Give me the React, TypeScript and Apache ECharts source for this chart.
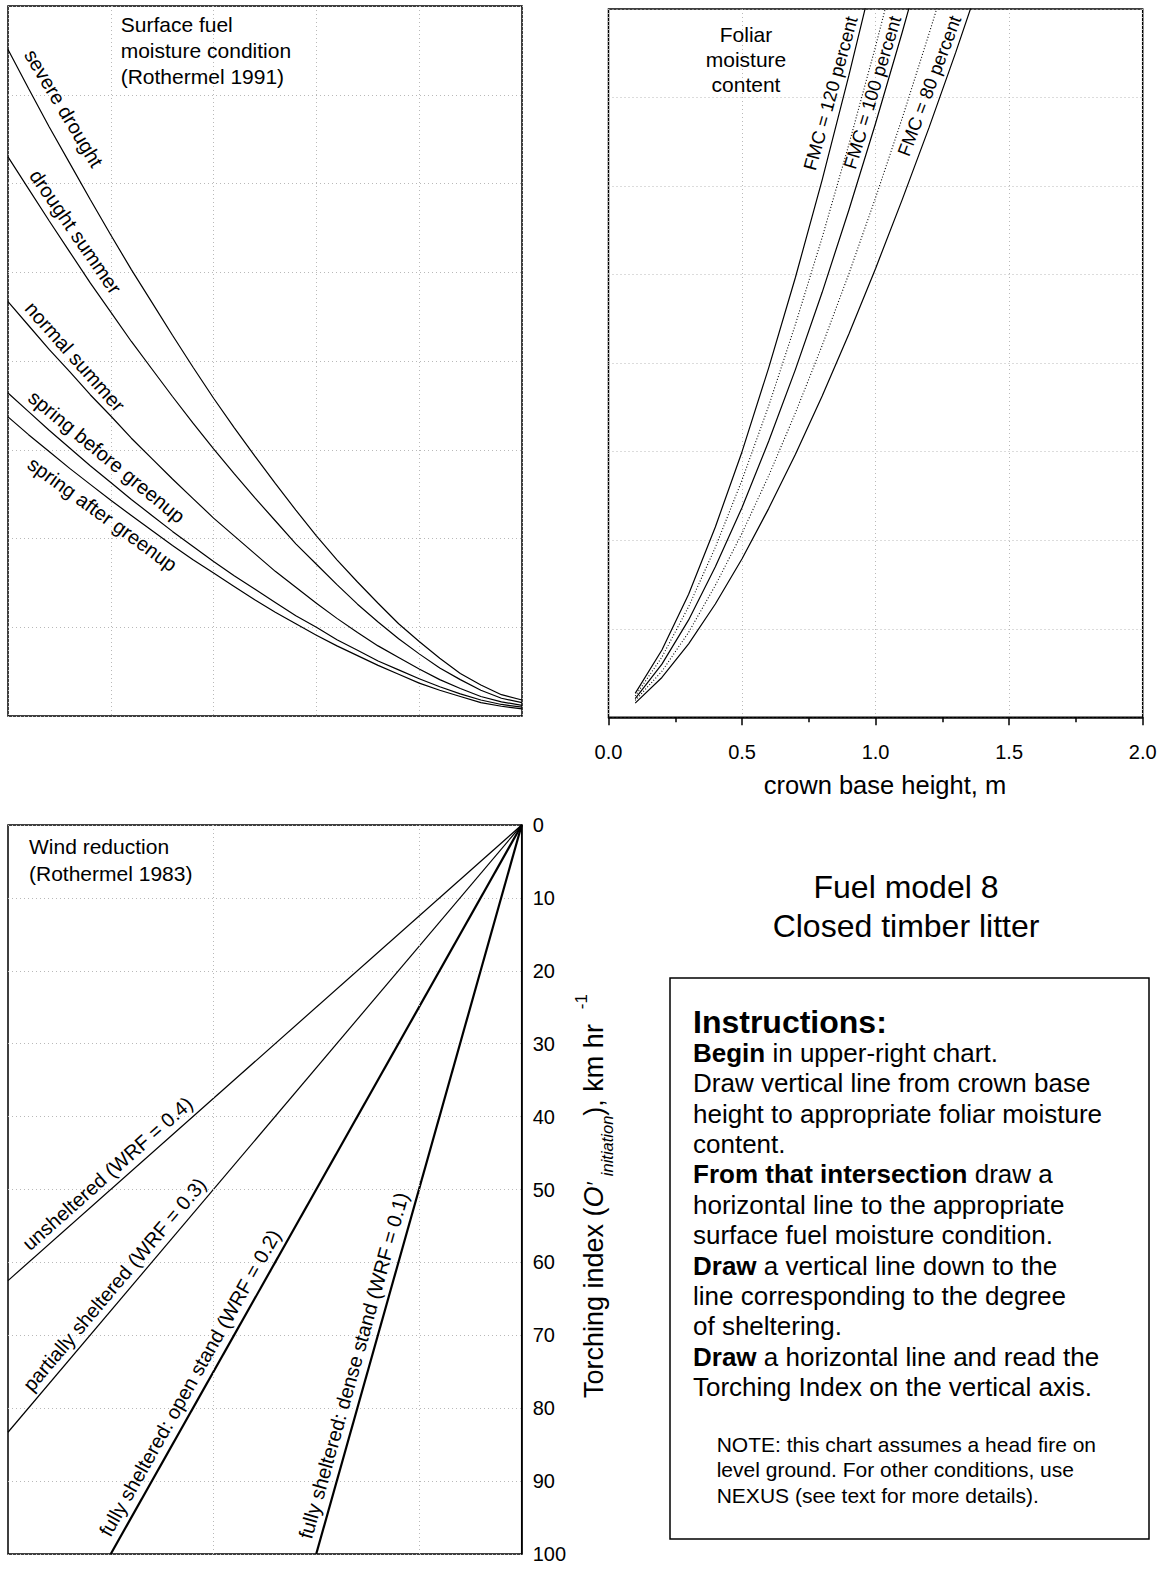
import React, { useEffect, useRef } from "react";
import * as echarts from "echarts";

// ---------- Upper-left: surface fuel moisture condition (midflame wind, 0 at right edge) ----------
const midflameWind = [0, 1, 2, 3, 4, 5, 6, 7, 8, 9, 10, 11, 12, 13, 14, 15, 16, 17, 18, 19, 20, 21, 22, 23, 24, 25];
const severeDrought = [0.18, 0.24, 0.35, 0.48, 0.65, 0.84, 1.04, 1.27, 1.51, 1.76, 2.03, 2.32, 2.62, 2.93, 3.25, 3.58, 3.93, 4.29, 4.66, 5.03, 5.42, 5.82, 6.23, 6.64, 7.07, 7.51];
const droughtSummer = [0.15, 0.2, 0.29, 0.41, 0.54, 0.7, 0.87, 1.06, 1.26, 1.48, 1.71, 1.94, 2.2, 2.46, 2.73, 3.01, 3.3, 3.6, 3.91, 4.22, 4.55, 4.88, 5.23, 5.58, 5.94, 6.3];
const normalSummer = [0.12, 0.16, 0.22, 0.31, 0.41, 0.53, 0.66, 0.79, 0.94, 1.1, 1.27, 1.45, 1.63, 1.83, 2.03, 2.23, 2.45, 2.67, 2.9, 3.13, 3.38, 3.62, 3.88, 4.13, 4.4, 4.67];
const springBeforeGreenup = [0.1, 0.13, 0.18, 0.25, 0.33, 0.42, 0.52, 0.62, 0.74, 0.86, 1.0, 1.13, 1.28, 1.43, 1.58, 1.74, 1.91, 2.08, 2.26, 2.44, 2.63, 2.82, 3.02, 3.22, 3.43, 3.64];
const springAfterGreenup = [0.08, 0.11, 0.15, 0.22, 0.29, 0.37, 0.47, 0.57, 0.68, 0.79, 0.91, 1.04, 1.17, 1.31, 1.46, 1.61, 1.76, 1.92, 2.09, 2.26, 2.43, 2.61, 2.79, 2.98, 3.17, 3.37];

// ---------- Upper-right: foliar moisture content curves vs crown base height ----------
const crownBaseHeight = [0.1, 0.2, 0.3, 0.4, 0.5, 0.6, 0.7, 0.8, 0.9, 1.0, 1.1, 1.2, 1.3, 1.4];
const fmc120 = [0.27, 0.76, 1.39, 2.15, 3.0, 3.95, 4.97, 6.07, 7.25, 8.49];
const fmc110 = [0.24, 0.68, 1.25, 1.92, 2.68, 3.52, 4.44, 5.42, 6.47, 7.58, 8.75];
const fmc100 = [0.21, 0.6, 1.1, 1.7, 2.37, 3.12, 3.93, 4.8, 5.73, 6.71, 7.74, 8.82];
const fmc90 = [0.19, 0.52, 0.96, 1.49, 2.08, 2.73, 3.44, 4.2, 5.01, 5.87, 6.77, 7.72, 8.7];
const fmc80 = [0.16, 0.45, 0.83, 1.28, 1.79, 2.36, 2.97, 3.63, 4.33, 5.07, 5.85, 6.66, 7.51, 8.4];

// ---------- Lower-left: wind reduction lines [midflame wind, torching index] ----------
const unshelteredLine = [[0, 0], [25, 62.5]];
const partiallyShelteredLine = [[0, 0], [25, 83.3]];
const openStandLine = [[0, 0], [20, 100]];
const denseStandLine = [[0, 0], [10, 100]];
const lowerWindGrid = [5, 15];

const FONT = "'Liberation Sans', Arial, Helvetica, sans-serif";

const zip = (xs: number[], ys: number[]) => ys.map((y, i) => [xs[i], y]);

const gridLine = {
  show: true,
  lineStyle: { color: "#b9b9b9", width: 1, type: [1, 3] as any },
};

const hiddenAxis = {
  axisLine: { show: false },
  axisTick: { show: false },
  axisLabel: { show: false },
};

function curve(data: number[][], xi: number, width = 1.2, type: any = "solid") {
  return {
    type: "line",
    xAxisIndex: xi,
    yAxisIndex: xi,
    data,
    symbol: "none",
    clip: true,
    silent: true,
    lineStyle: { color: "#000", width, type },
  };
}

function label(text: string, x: number, y: number, deg: number, size = 20) {
  return {
    type: "text",
    x,
    y,
    rotation: (deg * Math.PI) / 180,
    z: 100,
    style: {
      text,
      fill: "#000",
      fontSize: size,
      fontFamily: FONT,
      align: "center",
      verticalAlign: "middle",
    },
  };
}

export default function App() {
  const ref = useRef<HTMLDivElement>(null);

  useEffect(() => {
    if (!ref.current) return;
    const chart = echarts.init(ref.current, undefined, { renderer: "svg" });

    const option: any = {
      animation: false,
      backgroundColor: "#fff",
      grid: [
        { left: 8, top: 6, width: 514, height: 710, show: true, borderColor: "#000", borderWidth: 1.5, outerBoundsMode: "none" },
        { left: 608.5, top: 9, width: 534.2, height: 708.3, show: true, borderColor: "#000", borderWidth: 1.5, outerBoundsMode: "none" },
        { left: 8, top: 825, width: 513.7, height: 729, show: true, borderColor: "#000", borderWidth: 1.5, outerBoundsMode: "none" },
      ],
      xAxis: [
        { gridIndex: 0, type: "value", min: 0, max: 25, interval: 5, inverse: true, ...hiddenAxis, splitLine: gridLine },
        {
          gridIndex: 1,
          type: "value",
          min: 0,
          max: 2,
          interval: 0.5,
          axisLine: { show: true, onZero: false, lineStyle: { color: "#000", width: 1.5 } },
          axisTick: { show: true, length: 8, lineStyle: { color: "#000", width: 1.5 } },
          minorTick: { show: true, splitNumber: 2, length: 5, lineStyle: { color: "#000", width: 1.5 } },
          minorSplitLine: { show: false },
          axisLabel: {
            show: true,
            fontSize: 20,
            color: "#000",
            fontFamily: FONT,
            margin: 25,
            formatter: (v: number) => v.toFixed(1),
          },
          splitLine: gridLine,
        },
        { gridIndex: 2, type: "value", min: 0, max: 25, inverse: true, ...hiddenAxis, splitLine: { show: false } },
      ],
      yAxis: [
        { gridIndex: 0, type: "value", min: 0, max: 8, interval: 1, ...hiddenAxis, splitLine: gridLine },
        { gridIndex: 1, type: "value", min: 0, max: 8, interval: 1, ...hiddenAxis, splitLine: gridLine },
        {
          gridIndex: 2,
          type: "value",
          min: 0,
          max: 100,
          interval: 10,
          inverse: true,
          position: "right",
          axisLine: { show: true, onZero: false, lineStyle: { color: "#000", width: 1.5 } },
          axisTick: { show: false },
          axisLabel: { show: true, fontSize: 20, color: "#000", fontFamily: FONT, margin: 11 },
          splitLine: gridLine,
        },
      ],
      series: [
        curve(zip(midflameWind, severeDrought), 0),
        curve(zip(midflameWind, droughtSummer), 0),
        curve(zip(midflameWind, normalSummer), 0),
        curve(zip(midflameWind, springBeforeGreenup), 0),
        curve(zip(midflameWind, springAfterGreenup), 0),

        curve(zip(crownBaseHeight, fmc120), 1),
        curve(zip(crownBaseHeight, fmc110), 1, 1.1, [1, 2]),
        curve(zip(crownBaseHeight, fmc100), 1),
        curve(zip(crownBaseHeight, fmc90), 1, 1.1, [1, 2]),
        curve(zip(crownBaseHeight, fmc80), 1),

        {
          ...curve(unshelteredLine, 2, 1.2),
          markLine: {
            silent: true,
            symbol: ["none", "none"],
            label: { show: false },
            lineStyle: { color: "#b9b9b9", width: 1, type: [1, 3] },
            data: lowerWindGrid.map((v) => ({ xAxis: v })),
          },
        },
        curve(partiallyShelteredLine, 2, 1.2),
        curve(openStandLine, 2, 2.2),
        curve(denseStandLine, 2, 2.2),
      ],
      graphic: [
        // upper-left annotations
        {
          type: "text",
          x: 120.7,
          y: 50.5,
          z: 100,
          style: {
            text: "Surface fuel\nmoisture condition\n(Rothermel 1991)",
            fill: "#000",
            fontSize: 21,
            fontFamily: FONT,
            lineHeight: 26,
            align: "left",
            verticalAlign: "middle",
          },
        },
        label("severe drought", 63.8, 108.3, -59),
        label("drought summer", 75.5, 231.7, -55.5),
        label("normal summer", 75, 356.7, -48.5),
        label("spring before greenup", 106.7, 456.7, -39.5),
        label("spring after greenup", 102.5, 514.2, -36),

        // upper-right annotations
        {
          type: "text",
          x: 746,
          y: 59.2,
          z: 100,
          style: {
            text: "Foliar\nmoisture\ncontent",
            fill: "#000",
            fontSize: 21,
            fontFamily: FONT,
            lineHeight: 25,
            align: "center",
            verticalAlign: "middle",
          },
        },
        label("FMC = 120 percent", 830.5, 93.3, 74.5, 18.5),
        label("FMC = 100 percent", 872.2, 92.5, 73.2, 18.5),
        label("FMC = 80 percent", 929.2, 85.8, 69.3, 18.5),
        label("crown base height, m", 885, 784.5, 0, 25.5),

        // lower-left annotations
        {
          type: "text",
          x: 29,
          y: 860,
          z: 100,
          style: {
            text: "Wind reduction\n(Rothermel 1983)",
            fill: "#000",
            fontSize: 21,
            fontFamily: FONT,
            lineHeight: 27,
            align: "left",
            verticalAlign: "middle",
          },
        },
        label("unsheltered (WRF = 0.4)", 107.4, 1173.5, 41.6),
        label("partially sheltered (WRF = 0.3)", 114.4, 1284.4, 49.8),
        label("fully sheltered: open stand (WRF = 0.2)", 189.8, 1382.9, 60.6),
        label("fully sheltered: dense stand (WRF = 0.1)", 353.6, 1365.6, 74.3),

        // right axis title
        {
          type: "text",
          x: 594,
          y: 1196,
          rotation: Math.PI / 2,
          z: 100,
          style: {
            text: "{a|Torching index (}{o|O}{p|′ }{s|initiation}{a|), km hr  }{e|-1}",
            fill: "#000",
            fontSize: 27,
            fontFamily: FONT,
            align: "center",
            verticalAlign: "middle",
            rich: {
              a: { fontSize: 27, fontFamily: FONT, fill: "#000", lineHeight: 42 },
              o: { fontSize: 27, fontFamily: FONT, fontStyle: "italic", fill: "#000", lineHeight: 42 },
              p: { fontSize: 22, fontFamily: FONT, fontStyle: "italic", fill: "#000", lineHeight: 42 },
              s: { fontSize: 16.5, fontFamily: FONT, fontStyle: "italic", fill: "#000", lineHeight: 22, verticalAlign: "bottom" },
              e: { fontSize: 17, fontFamily: FONT, fill: "#000", lineHeight: 26, verticalAlign: "top" },
            },
          },
        },

        // title
        {
          type: "text",
          x: 906,
          y: 906,
          z: 100,
          style: {
            text: "Fuel model 8\nClosed timber litter",
            fill: "#000",
            fontSize: 32,
            fontFamily: FONT,
            lineHeight: 39,
            align: "center",
            verticalAlign: "middle",
          },
        },

        // instructions box
        {
          type: "rect",
          z: 90,
          shape: { x: 670, y: 978, width: 479, height: 561 },
          style: { fill: "none", stroke: "#000", lineWidth: 1.5 },
        },
        {
          type: "text",
          x: 693,
          y: 1022,
          z: 100,
          style: {
            text: "Instructions:",
            fill: "#000",
            fontSize: 32,
            fontWeight: "bold",
            fontFamily: FONT,
            lineHeight: 28,
            align: "left",
            verticalAlign: "middle",
          },
        },
        {
          type: "text",
          x: 693,
          y: 1037.5,
          z: 100,
          style: {
            text: [
              "{b|Begin}{r| in upper-right chart.}",
              "{r|Draw vertical line from crown base}",
              "{r|height to appropriate foliar moisture}",
              "{r|content.}",
              "{b|From that intersection}{r| draw a}",
              "{r|horizontal line to the appropriate}",
              "{r|surface fuel moisture condition.}",
              "{b|Draw}{r| a vertical line down to the}",
              "{r|line corresponding to the degree}",
              "{r|of sheltering.}",
              "{b|Draw}{r| a horizontal line and read the}",
              "{r|Torching Index on the vertical axis.}",
            ].join("\n"),
            fill: "#000",
            fontSize: 26,
            fontFamily: FONT,
            lineHeight: 30.4,
            align: "left",
            verticalAlign: "top",
            rich: {
              b: { fontSize: 26, fontFamily: FONT, fontWeight: "bold", fill: "#000", lineHeight: 30.4 },
              r: { fontSize: 26, fontFamily: FONT, fill: "#000", lineHeight: 30.4 },
            },
          },
        },
        {
          type: "text",
          x: 716.7,
          y: 1469.5,
          z: 100,
          style: {
            text: "NOTE: this chart assumes a head fire on\nlevel ground. For other conditions, use\nNEXUS (see text for more details).",
            fill: "#000",
            fontSize: 21,
            fontFamily: FONT,
            lineHeight: 25.5,
            align: "left",
            verticalAlign: "middle",
          },
        },
      ],
    };

    chart.setOption(option);
    return () => chart.dispose();
  }, []);

  return (
    <div
      ref={ref}
      style={{ position: "absolute", left: 0, top: 0, width: 1160, height: 1574 }}
    />
  );
}
